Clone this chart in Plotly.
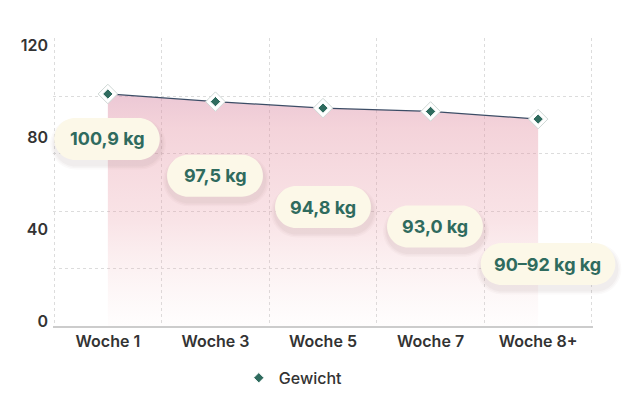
import plotly.graph_objects as go

# Data
weeks = ["Woche 1", "Woche 3", "Woche 5", "Woche 7", "Woche 8+"]
weight = [97.0, 93.8, 91.1, 89.7, 86.5]
label_texts = ["100,9 kg", "97,5 kg", "94,8 kg", "93,0 kg", "90–92 kg kg"]
y_ticks = [0, 40, 80, 120]
y_grid = [0, 24, 48, 72, 96, 120]

# label placement (pixels below the point) and small horizontal nudges
label_drop = [45, 74, 99, 115, 145]
label_nudge = [0, 0, 0, 4, 9]

GREEN = "#2f6b5e"
GRID = "#dcdcdc"
FONT = "Inter, Lato, sans-serif"


def pill_path(w, h, dx, dy):
    # rounded pill in pixel coords (y up), centred at (dx, -dy)
    r = h / 2
    k = 0.5523 * r
    cx, cy = dx, -dy
    l, rr = cx - w / 2, cx + w / 2
    t, b = cy + r, cy - r
    return (
        f"M {l + r},{t} L {rr - r},{t} "
        f"C {rr - r + k},{t} {rr},{cy + k} {rr},{cy} "
        f"C {rr},{cy - k} {rr - r + k},{b} {rr - r},{b} "
        f"L {l + r},{b} "
        f"C {l + r - k},{b} {l},{cy - k} {l},{cy} "
        f"C {l},{cy + k} {l + r - k},{t} {l + r},{t} Z"
    )


fig = go.Figure()

# area + line (semi transparent so the grid shows through)
fig.add_trace(
    go.Scatter(
        x=weeks,
        y=weight,
        mode="lines",
        line=dict(color="#3c4d66", width=1.3),
        fill="tozeroy",
        fillgradient=dict(
            type="vertical",
            colorscale=[
                [0, "rgba(240,190,190,0.03)"],
                [0.45, "rgba(232,150,162,0.26)"],
                [0.85, "rgba(226,140,158,0.38)"],
                [1, "rgba(214,140,168,0.48)"],
            ],
        ),
        showlegend=False,
        hoverinfo="skip",
    )
)

# white halo behind the diamonds
fig.add_trace(
    go.Scatter(
        x=weeks,
        y=weight,
        mode="markers",
        marker=dict(symbol="diamond", size=15, color="white",
                    line=dict(color="#cfd8d5", width=1)),
        showlegend=False,
        hoverinfo="skip",
    )
)

fig.add_trace(
    go.Scatter(
        x=weeks,
        y=weight,
        mode="markers",
        name="Gewicht",
        marker=dict(symbol="diamond", size=8, color=GREEN,
                    line=dict(color="white", width=1)),
    )
)

# invisible trace so the label axis gets drawn
fig.add_trace(
    go.Scatter(x=[weeks[0]], y=[y_ticks[0]], yaxis="y2", mode="none",
               showlegend=False, hoverinfo="skip")
)

shapes = []
annotations = []
n = len(weeks)
for i, (val, txt, drop, nudge) in enumerate(zip(weight, label_texts, label_drop, label_nudge)):
    w = 28 + 9.7 * len(txt)
    h = 42
    xa = (i + 0.5) / n  # category centre in paper units, so pills aren't clipped
    common = dict(type="path", layer="above", xref="paper", yref="y",
                  xsizemode="pixel", ysizemode="pixel", xanchor=xa, yanchor=val)
    # soft shadow
    for j, a in enumerate([0.035, 0.03, 0.025]):
        shapes.append(dict(
            common,
            path=pill_path(w + 4 + 3 * j, h + 3 + 3 * j, nudge + 1, drop + 5),
            fillcolor=f"rgba(90,60,60,{a})", line=dict(width=0),
        ))
    shapes.append(dict(
        common,
        path=pill_path(w, h, nudge, drop),
        fillcolor="#fcf8e8", line=dict(width=0),
    ))
    annotations.append(dict(
        x=weeks[i], y=val, xref="x", yref="y", text=txt, showarrow=False,
        xshift=nudge, yshift=-drop,
        font=dict(family=FONT, size=18, color=GREEN, weight=700),
    ))

fig.update_layout(
    width=633,
    height=399,
    margin=dict(l=45, r=48, t=30, b=73),
    paper_bgcolor="white",
    plot_bgcolor="white",
    font=dict(family=FONT, color="#333333"),
    shapes=shapes,
    annotations=annotations,
    xaxis=dict(
        type="category",
        range=[-0.51, 4.51],
        tickson="boundaries",
        showgrid=True,
        gridcolor=GRID,
        griddash="dot",
        gridwidth=1,
        showline=True,
        linecolor="#cccccc",
        linewidth=2,
        ticks="",
        tickfont=dict(size=16, weight=600, color="#333333"),
        zeroline=False,
    ),
    yaxis=dict(
        range=[0, 120.4],
        tickvals=y_grid,
        showticklabels=False,
        showgrid=True,
        gridcolor=GRID,
        griddash="dot",
        gridwidth=1,
        zeroline=False,
        ticks="",
    ),
    # label axis: labels sit slightly inside the grid, as in the original
    yaxis2=dict(
        overlaying="y",
        side="left",
        range=[-2.2, 123.0],
        tickvals=y_ticks,
        showgrid=False,
        zeroline=False,
        ticks="",
        ticklabelstandoff=4,
        tickfont=dict(size=16, weight=600, color="#333333"),
    ),
    legend=dict(
        orientation="h",
        x=0.445,
        xanchor="center",
        y=-0.18,
        yanchor="middle",
        font=dict(size=16, weight=500, color="#333333"),
    ),
    hovermode=False,
)

fig.write_html("out.html")
